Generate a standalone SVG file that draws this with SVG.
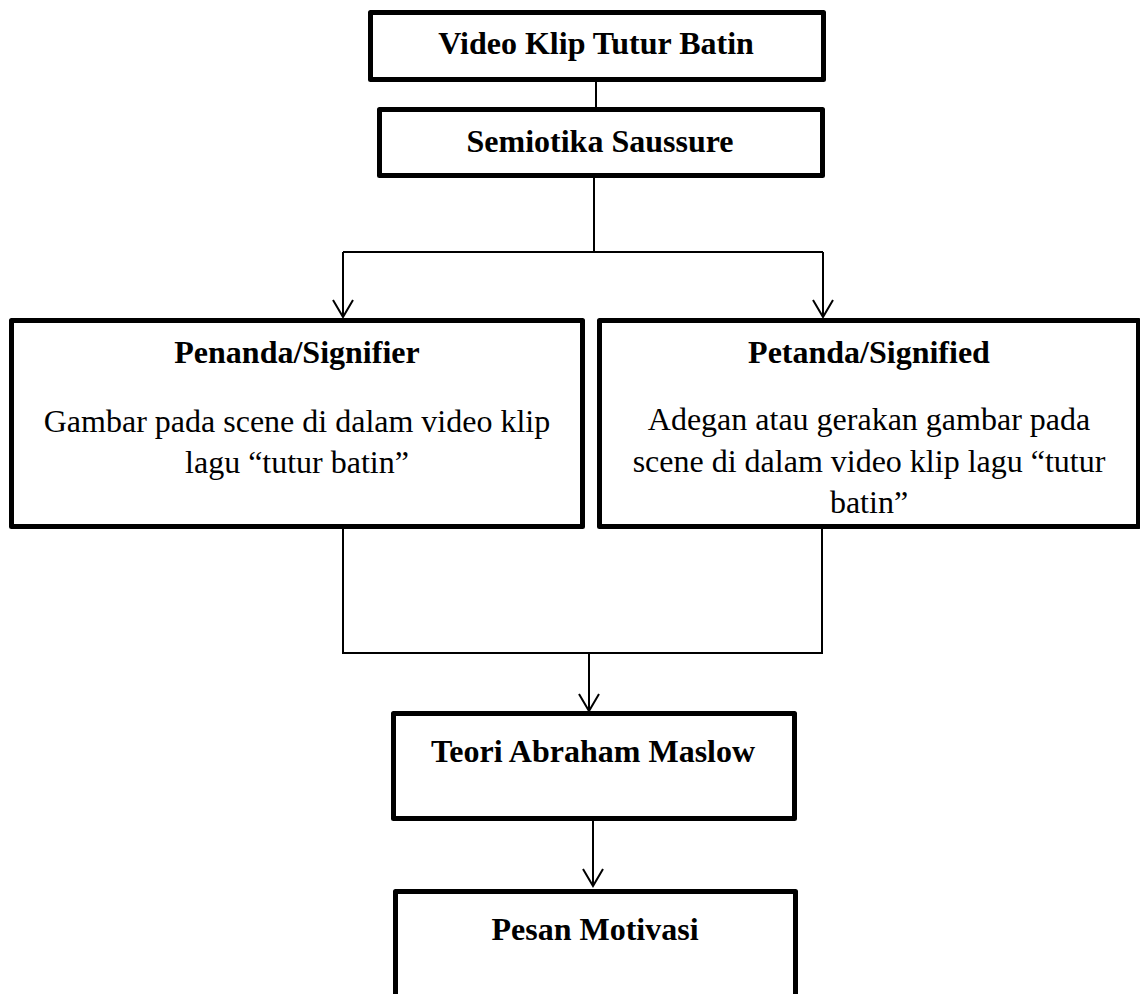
<svg xmlns="http://www.w3.org/2000/svg" width="1140" height="994" viewBox="0 0 1140 994">
<style>
.box{fill:#fff;stroke:#000;stroke-width:5;stroke-linejoin:round}
.t{font-family:"Liberation Serif","Times New Roman",serif;font-size:32px;fill:#000;text-anchor:middle}
.b{font-weight:bold}
.c{fill:none;stroke:#000;stroke-width:2}
</style>
<defs>
<marker id="arr" markerUnits="userSpaceOnUse" markerWidth="24" markerHeight="24" viewBox="-20 -12 24 24" refX="0" refY="0" orient="auto">
<path d="M-17,-10 L0,0 L-17,10" fill="none" stroke="#000" stroke-width="2"/>
</marker>
</defs>
<rect width="1140" height="994" fill="#fff"/>
<g id="connectors">
<line class="c" x1="596" y1="82" x2="596" y2="107"/>
<line class="c" x1="594" y1="178" x2="594" y2="252"/>
<line class="c" x1="343" y1="252" x2="823" y2="252"/>
<line class="c" x1="343" y1="252" x2="343" y2="317" marker-end="url(#arr)"/>
<line class="c" x1="823" y1="252" x2="823" y2="317" marker-end="url(#arr)"/>
<line class="c" x1="343" y1="529" x2="343" y2="653"/>
<line class="c" x1="822" y1="529" x2="822" y2="653"/>
<line class="c" x1="342" y1="653" x2="823" y2="653"/>
<line class="c" x1="589" y1="653" x2="589" y2="711" marker-end="url(#arr)"/>
<line class="c" x1="593" y1="821" x2="593" y2="886" marker-end="url(#arr)"/>
</g>
<g id="n1">
<rect class="box" x="370.5" y="12.5" width="453" height="67"/>
<text class="t b" x="596" y="54">Video Klip Tutur Batin</text>
</g>
<g id="n2">
<rect class="box" x="379.5" y="109.5" width="443" height="66"/>
<text class="t b" x="600" y="152">Semiotika Saussure</text>
</g>
<g id="n3">
<rect class="box" x="11.5" y="320.5" width="571" height="206"/>
<text class="t b" x="297" y="363">Penanda/Signifier</text>
<text class="t" x="297" y="432">Gambar pada scene di dalam video klip</text>
<text class="t" x="297" y="473">lagu “tutur batin”</text>
</g>
<g id="n4">
<rect class="box" x="599.5" y="320.5" width="539" height="206"/>
<text class="t b" x="869" y="363">Petanda/Signified</text>
<text class="t" x="869" y="430">Adegan atau gerakan gambar pada</text>
<text class="t" x="869" y="471.5">scene di dalam video klip lagu “tutur</text>
<text class="t" x="869" y="513">batin”</text>
</g>
<g id="n5">
<rect class="box" x="393.5" y="713.5" width="401" height="105"/>
<text class="t b" x="593" y="762">Teori Abraham Maslow</text>
</g>
<g id="n6">
<rect class="box" x="395.5" y="891.5" width="400" height="120"/>
<text class="t b" x="595" y="940">Pesan Motivasi</text>
</g>
</svg>
